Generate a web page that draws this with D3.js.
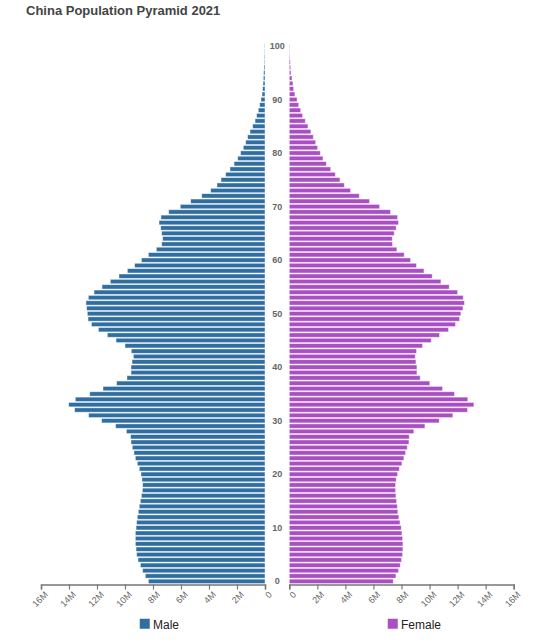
<!DOCTYPE html>
<html>
<head>
<meta charset="utf-8">
<script src="https://cdn.jsdelivr.net/npm/d3@7"></script>
<style>
body { margin: 0; background: #fff; font-family: "Liberation Sans", Arial, Helvetica, sans-serif; }
svg { display: block; }
</style>
</head>
<body>
<div id="chart"></div>
<script>
// Ages 0..100
const ages = d3.range(0, 101);
// Male population (millions), age 0..100
const male = [
  8.33, 8.55, 8.74, 8.90, 9.07, 9.17, 9.21, 9.26, 9.26, 9.26,
  9.21, 9.17, 9.12, 9.05, 8.98, 8.90, 8.83, 8.76, 8.74, 8.79,
  8.86, 8.98, 9.12, 9.26, 9.36, 9.48, 9.57, 9.60, 9.90, 10.67,
  11.67, 12.60, 13.60, 14.02, 13.55, 12.52, 11.57, 10.60, 9.86, 9.57,
  9.57, 9.50, 9.40, 9.55, 10.00, 10.64, 11.26, 11.90, 12.40, 12.64,
  12.69, 12.74, 12.79, 12.62, 12.21, 11.64, 11.05, 10.43, 9.83, 9.31,
  8.83, 8.33, 7.76, 7.38, 7.31, 7.38, 7.45, 7.57, 7.43, 6.88,
  6.05, 5.31, 4.52, 3.88, 3.43, 3.14, 2.81, 2.50, 2.21, 1.95,
  1.74, 1.55, 1.38, 1.24, 1.07, 0.88, 0.71, 0.60, 0.48, 0.38,
  0.29, 0.21, 0.17, 0.14, 0.12, 0.10, 0.07, 0.05, 0.05, 0.02,
  0.02
];
// Female population (millions), age 0..100
const female = [
  7.41, 7.60, 7.79, 7.91, 8.00, 8.08, 8.10, 8.10, 8.08, 8.03,
  7.98, 7.89, 7.81, 7.74, 7.70, 7.65, 7.60, 7.58, 7.58, 7.62,
  7.72, 7.84, 8.03, 8.17, 8.29, 8.41, 8.53, 8.55, 8.88, 9.67,
  10.69, 11.66, 12.71, 13.16, 12.73, 11.78, 10.93, 10.02, 9.33, 9.10,
  9.10, 9.03, 8.98, 9.07, 9.50, 10.12, 10.71, 11.35, 11.85, 12.14,
  12.23, 12.38, 12.49, 12.40, 12.00, 11.40, 10.81, 10.19, 9.60, 9.07,
  8.65, 8.19, 7.67, 7.36, 7.34, 7.48, 7.62, 7.79, 7.72, 7.22,
  6.44, 5.72, 4.99, 4.37, 3.92, 3.61, 3.28, 2.95, 2.64, 2.40,
  2.21, 2.02, 1.88, 1.71, 1.54, 1.33, 1.14, 0.95, 0.81, 0.67,
  0.55, 0.40, 0.31, 0.26, 0.19, 0.12, 0.10, 0.07, 0.05, 0.03,
  0.03
];
const xTicks = [0, 2, 4, 6, 8, 10, 12, 14, 16];
const ageTicks = [0, 10, 20, 30, 40, 50, 60, 70, 80, 90, 100];
const title = "China Population Pyramid 2021";
const seriesNames = ["Male", "Female"];
const colors = ["#306ea1", "#aa4fc3"];

const W = 558, H = 643;
const svg = d3.select("#chart").append("svg").attr("width", W).attr("height", H);

svg.append("text").attr("x", 26).attr("y", 15)
  .attr("font-size", 13).attr("font-weight", "bold").attr("fill", "#444")
  .text(title);

const y = d3.scaleBand().domain(ages).range([584, 43.3]).paddingInner(0.18).paddingOuter(0.09);
const xM = d3.scaleLinear().domain([0, 16]).range([265, 41]);
const xF = d3.scaleLinear().domain([0, 16]).range([289.3, 513.7]);

const gM = svg.append("g");
gM.selectAll("rect").data(ages).join("rect")
  .attr("x", d => xM(male[d]))
  .attr("y", d => y(d))
  .attr("width", d => xM(0) - xM(male[d]))
  .attr("height", y.bandwidth())
  .attr("fill", colors[0])
  .attr("stroke", "#ffffff").attr("stroke-opacity", 0.55).attr("stroke-width", 0.8);

const gF = svg.append("g");
gF.selectAll("rect").data(ages).join("rect")
  .attr("x", xF(0))
  .attr("y", d => y(d))
  .attr("width", d => xF(female[d]) - xF(0))
  .attr("height", y.bandwidth())
  .attr("fill", colors[1])
  .attr("stroke", "#ffffff").attr("stroke-opacity", 0.55).attr("stroke-width", 0.8);

// age labels
svg.append("g").selectAll("text").data(ageTicks).join("text")
  .attr("x", 277.2)
  .attr("y", d => y(d) + y.bandwidth() / 2)
  .attr("dy", "0.35em")
  .attr("text-anchor", "middle")
  .attr("font-size", 9).attr("font-weight", "bold").attr("fill", "#666")
  .text(d => d);

const fmt = d => d === 0 ? "0" : d + "M";
function styleAxis(g) {
  g.select(".domain").attr("stroke", "#777").attr("stroke-width", 1.5);
  g.selectAll(".tick line").attr("stroke", "#777").attr("stroke-width", 1.2);
  g.selectAll(".tick text")
    .attr("fill", "#666").attr("font-size", 9)
    .attr("text-anchor", "end")
    .attr("transform", "rotate(-45)")
    .attr("dx", "-0.3em").attr("dy", "0.5em")
    .style("font-family", "Liberation Sans, Arial, sans-serif");
}
svg.append("g").attr("transform", "translate(0,584.5)")
  .call(d3.axisBottom(xM).tickValues(xTicks).tickFormat(fmt).tickSizeOuter(6).tickSize(5))
  .call(styleAxis);
svg.append("g").attr("transform", "translate(0,584.5)")
  .call(d3.axisBottom(xF).tickValues(xTicks).tickFormat(fmt).tickSizeOuter(6).tickSize(5))
  .call(styleAxis);

// legend
const legX = [139.5, 387.5];
const leg = svg.append("g");
seriesNames.forEach((n, i) => {
  leg.append("rect").attr("x", legX[i]).attr("y", 618.5).attr("width", 10.5).attr("height", 10.5)
    .attr("fill", colors[i]).attr("stroke", "#fff").attr("stroke-opacity", 0.5);
  leg.append("text").attr("x", legX[i] + 13.5).attr("y", 628.5)
    .attr("font-size", 12).attr("fill", "#222").text(n);
});
</script>
</body>
</html>
